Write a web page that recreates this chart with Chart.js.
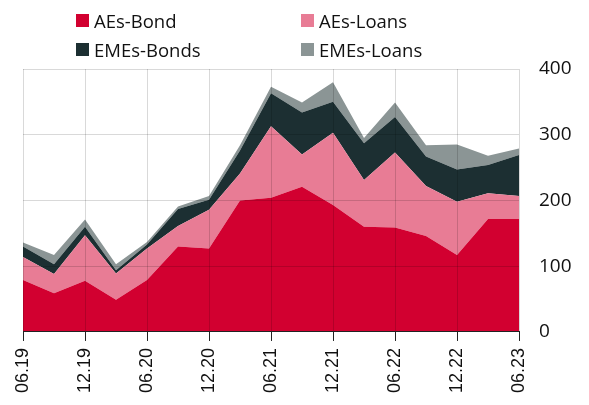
<!DOCTYPE html>
<html lang="en">

<head>
    <meta charset="UTF-8">
    <title>AEs / EMEs bonds and loans</title>
    <script src="https://cdn.jsdelivr.net/npm/chart.js"></script>
    <style>
        body { margin: 0; background: #fff; font-family: 'Open Sans', sans-serif; }
        #wrap { position: relative; width: 589px; height: 405px; }
        #legend { position: absolute; left: 76px; top: 8px; display: grid; grid-template-columns: 225px 200px; row-gap: 5px; font-size: 18.5px; color: #111; }
        .item { display: flex; align-items: center; height: 24px; }
        .box { width: 13px; height: 13px; margin-right: 5px; }
    </style>
</head>

<body>
    <div id="wrap">
        <div id="legend"></div>
        <canvas id="myChart" width="589" height="405"></canvas>
    </div>

    <script>
        // quarterly, 06.19 - 06.23
        const labels = ['06.19', '09.19', '12.19', '03.20', '06.20', '09.20', '12.20', '03.21', '06.21',
            '09.21', '12.21', '03.22', '06.22', '09.22', '12.22', '03.23', '06.23'];

        const aesBond = [79, 59, 78, 49, 79, 130, 127, 200, 204, 221, 193, 160, 159, 146, 117, 172, 172];
        const aesLoans = [35, 29, 69, 40, 48, 31, 59, 41, 109, 49, 110, 71, 114, 76, 81, 39, 35];
        const emesBonds = [16, 15, 13, 5, 6, 26, 15, 35, 50, 64, 47, 56, 54, 45, 49, 43, 62];
        const emesLoans = [6, 14, 11, 9, 4, 4, 6, 8, 10, 15, 30, 8, 22, 17, 38, 14, 10];

        const yTicks = [0, 100, 200, 300, 400];

        const series = [
            { label: 'AEs-Bond', data: aesBond, color: '#d20030' },
            { label: 'AEs-Loans', data: aesLoans, color: '#e87c95' },
            { label: 'EMEs-Bonds', data: emesBonds, color: '#1c2f32' },
            { label: 'EMEs-Loans', data: emesLoans, color: '#8b9595' }
        ];

        // legend in two columns
        const legend = document.getElementById('legend');
        series.forEach(s => {
            const el = document.createElement('div');
            el.className = 'item';
            el.innerHTML = `<span class="box" style="background:${s.color}"></span>${s.label}`;
            legend.appendChild(el);
        });

        const ctx = document.getElementById('myChart').getContext('2d');
        const myChart = new Chart(ctx, {
            type: 'line',
            data: {
                labels: labels,
                datasets: series.map((s, i) => ({
                    label: s.label,
                    data: s.data,
                    backgroundColor: s.color,
                    borderWidth: 0,
                    pointRadius: 0,
                    tension: 0,
                    fill: i === 0 ? 'origin' : '-1'
                }))
            },
            options: {
                responsive: false,
                animation: false,
                layout: { padding: { top: 69, left: 23, right: 12, bottom: 5 } },
                plugins: {
                    legend: { display: false },
                    tooltip: { enabled: false }
                },
                scales: {
                    x: {
                        offset: false,
                        // grid over the areas, border after the grid
                        grid: {
                            color: 'rgba(0,0,0,0.15)',
                            tickColor: '#222',
                            tickLength: 9,
                            z: 1
                        },
                        border: { color: '#222', width: 1, z: 2 },
                        ticks: {
                            autoSkip: false,
                            minRotation: 90,
                            maxRotation: 90,
                            padding: 7,
                            color: '#111',
                            font: { family: 'Liberation Sans', size: 18 },
                            callback: (value, index) => index % 2 === 0 ? labels[index] : null
                        }
                    },
                    y: {
                        position: 'right',
                        stacked: true,
                        min: 0,
                        max: 400,
                        afterBuildTicks: (axis) => { axis.ticks = yTicks.map(v => ({ value: v })); },
                        afterFit: (axis) => { axis.width = 58; },
                        grid: { color: 'rgba(0,0,0,0.15)', drawTicks: false, z: 1 },
                        border: { display: false },
                        ticks: {
                            padding: 20,
                            color: '#111',
                            font: { family: 'Open Sans', size: 19 }
                        }
                    }
                }
            }
        });
    </script>
</body>

</html>
